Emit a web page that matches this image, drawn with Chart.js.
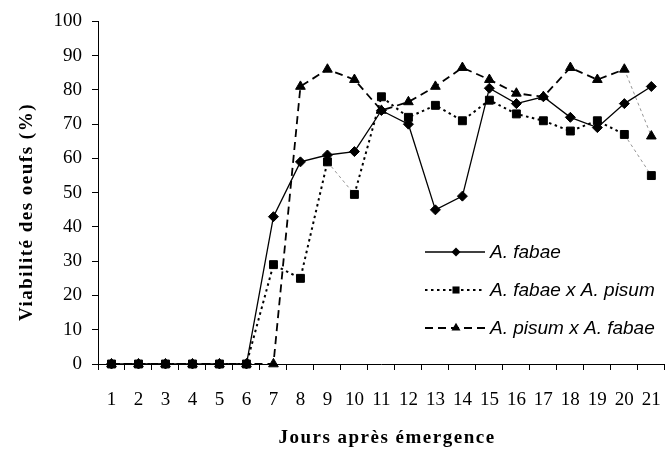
<!DOCTYPE html>
<html>
<head>
<meta charset="utf-8">
<script src="https://cdn.jsdelivr.net/npm/chart.js@4/dist/chart.umd.min.js"></script>
<style>
  html, body { margin: 0; padding: 0; overflow: hidden; background: #fff; }
  canvas { display: block; }
</style>
</head>
<body>
<canvas id="chart" width="680" height="456"></canvas>
<script>
// Days after adult emergence
const days = ['1','2','3','4','5','6','7','8','9','10','11','12','13','14','15','16','17','18','19','20','21'];

// Egg viability (%) per day
const fabae        = [0, 0, 0, 0, 0, 0, 43, 59, 61, 62, 74, 70, 45, 49, 80.5, 76, 78, 72, 69, 76, 81];
const fabaeXpisum  = [0, 0, 0, 0, 0, 0, 29, 25, 59, 49.5, 78, 72, 75.5, 71, 77, 73, 71, 68, 71, 67, 55];
const pisumXfabae  = [0, 0, 0, 0, 0, 0, 0, 81, 86, 83, 74, 76.5, 81, 86.5, 83, 79, 78, 86.5, 83, 86, 66.5];

const seriesNames = ['A. fabae', 'A. fabae x A. pisum', 'A. pisum x A. fabae'];

// Value axis range
const yMin = 0, yMax = 100, yStep = 10;

const xTitle = 'Jours après émergence';
const yTitle = 'Viabilité des oeufs (%)';

const SERIF = '"Liberation Serif", "Times New Roman", serif';
const SANS = '"Liberation Sans", Arial, sans-serif';

// Light, thin connector used for a few segments of the crosses
function faint(indices) {
  return {
    borderColor: c => indices.includes(c.p0DataIndex) ? '#8a8a8a' : undefined,
    borderWidth: c => indices.includes(c.p0DataIndex) ? 0.9 : undefined,
    borderDash: c => indices.includes(c.p0DataIndex) ? [3, 3] : undefined
  };
}

function drawMarker(ctx, style, x, y, r) {
  ctx.beginPath();
  if (style === 'rectRot') {
    ctx.moveTo(x, y - r); ctx.lineTo(x + r, y); ctx.lineTo(x, y + r); ctx.lineTo(x - r, y);
  } else if (style === 'rect') {
    const s = r * Math.SQRT1_2;
    ctx.rect(x - s, y - s, 2 * s, 2 * s);
  } else if (style === 'triangle') {
    ctx.moveTo(x, y - r);
    ctx.lineTo(x + r * Math.cos(Math.PI / 6), y + r * 0.5);
    ctx.lineTo(x - r * Math.cos(Math.PI / 6), y + r * 0.5);
  }
  ctx.closePath();
  ctx.fill();
}

// Legend placed inside the plot area, plus the two axis titles
const annotations = {
  id: 'annotations',
  afterDraw(chart) {
    const ctx = chart.ctx;
    const rows = [252, 290, 328];
    const markerR = { rectRot: 4.5, rect: 5, triangle: 5.2 };
    chart.data.datasets.forEach((ds, i) => {
      const y = rows[i];
      ctx.save();
      ctx.strokeStyle = '#000';
      ctx.fillStyle = '#000';
      ctx.lineWidth = ds.borderWidth;
      ctx.setLineDash(ds.borderDash || []);
      ctx.beginPath();
      ctx.moveTo(425, y);
      ctx.lineTo(485, y);
      ctx.stroke();
      ctx.setLineDash([]);
      drawMarker(ctx, ds.pointStyle, 456, y, markerR[ds.pointStyle]);
      ctx.font = 'italic 19px ' + SANS;
      ctx.textBaseline = 'middle';
      ctx.textAlign = 'left';
      ctx.fillText(ds.label, 490, y + 1);
      ctx.restore();
    });

    ctx.save();
    ctx.fillStyle = '#000';
    ctx.font = 'bold 19px ' + SERIF;
    ctx.letterSpacing = '1.5px';
    ctx.textAlign = 'center';
    ctx.textBaseline = 'middle';
    ctx.fillText(xTitle, 387, 438);
    ctx.translate(27, 212);
    ctx.rotate(-Math.PI / 2);
    ctx.fillText(yTitle, 0, 0);
    ctx.restore();
  }
};

new Chart(document.getElementById('chart'), {
  type: 'line',
  data: {
    labels: days,
    datasets: [
      {
        label: seriesNames[0],
        data: fabae,
        borderColor: '#000',
        backgroundColor: '#000',
        borderWidth: 1.3,
        borderDash: [],
        pointStyle: 'rectRot',
        pointRadius: 5,
        pointBorderWidth: 1,
        order: 1,
        clip: false
      },
      {
        label: seriesNames[1],
        data: fabaeXpisum,
        borderColor: '#000',
        backgroundColor: '#000',
        borderWidth: 2,
        borderDash: [2.5, 3.5],
        pointStyle: 'rect',
        pointRadius: 5.6,
        pointBorderWidth: 1,
        segment: faint([8, 19]),
        order: 0,
        clip: false
      },
      {
        label: seriesNames[2],
        data: pisumXfabae,
        borderColor: '#000',
        backgroundColor: '#000',
        borderWidth: 1.8,
        borderDash: [8, 5],
        pointStyle: 'triangle',
        pointRadius: 5.6,
        pointBorderWidth: 1,
        segment: faint([19]),
        order: 2,
        clip: false
      }
    ]
  },
  options: {
    responsive: false,
    animation: false,
    devicePixelRatio: 1,
    layout: { padding: { top: 17, left: 0, right: 3, bottom: 0 } },
    plugins: {
      legend: { display: false },
      tooltip: { enabled: false }
    },
    elements: { line: { tension: 0 } },
    scales: {
      x: {
        type: 'category',
        offset: true,
        afterFit(scale) { scale.height = 92; },
        grid: {
          display: true,
          offset: true,
          drawOnChartArea: false,
          drawTicks: true,
          tickLength: 6,
          color: '#000',
          lineWidth: 1
        },
        border: { display: true, color: '#000', width: 1 },
        ticks: {
          color: '#000',
          font: { family: SERIF, size: 19 },
          padding: 19,
          maxRotation: 0,
          autoSkip: false
        }
      },
      y: {
        min: yMin,
        max: yMax,
        afterFit(scale) { scale.width = 98; },
        grid: {
          display: true,
          drawOnChartArea: false,
          drawTicks: true,
          tickLength: 6,
          color: '#000',
          lineWidth: 1
        },
        border: { display: true, color: '#000', width: 1 },
        ticks: {
          stepSize: yStep,
          color: '#000',
          font: { family: SERIF, size: 19 },
          padding: 10
        }
      }
    }
  },
  plugins: [annotations]
});
</script>
</body>
</html>
